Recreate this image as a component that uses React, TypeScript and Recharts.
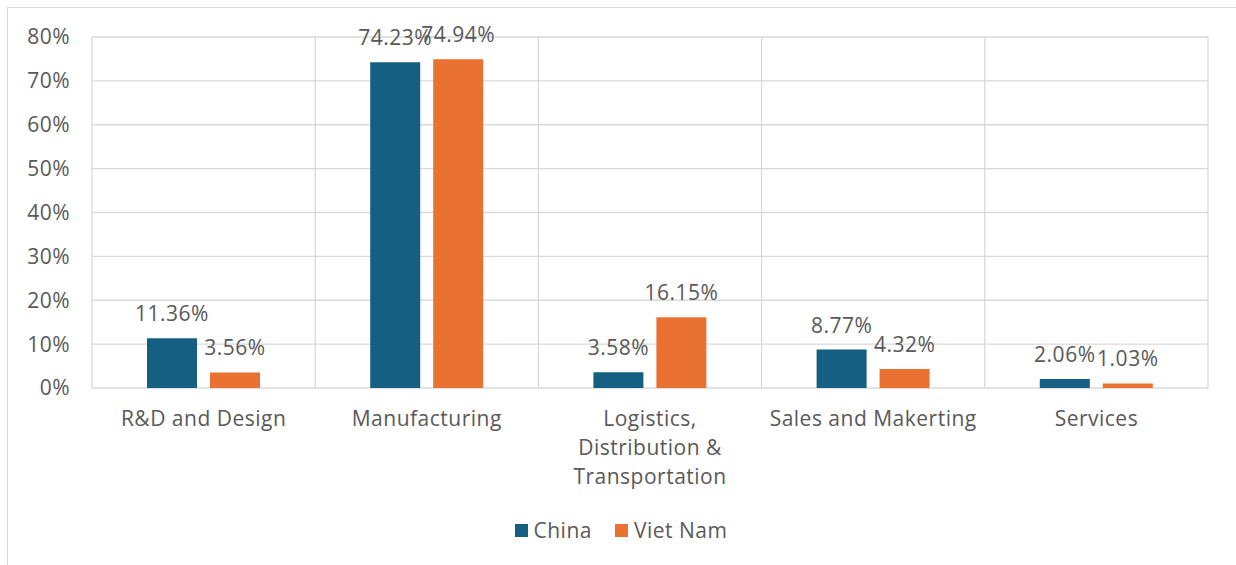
import { BarChart, Bar, XAxis, YAxis, CartesianGrid, Legend, LabelList } from 'recharts';

const categories = [
  'R&D and Design',
  'Manufacturing',
  'Logistics,\nDistribution &\nTransportation',
  'Sales and Makerting',
  'Services',
];
const chinaValues = [11.36, 74.23, 3.58, 8.77, 2.06];
const vietNamValues = [3.56, 74.94, 16.15, 4.32, 1.03];
const yTicks = [0, 10, 20, 30, 40, 50, 60, 70, 80];
const seriesNames = ['China', 'Viet Nam'];

const FONT = '"Open Sans", sans-serif';
const TEXT = '#595959';
const GRID = '#D9D9D9';
const COLORS = ['#156082', '#E97132'];
const SPACING = '0.5px';

const data = categories.map((c, i) => ({
  category: c,
  china: chinaValues[i],
  vietNam: vietNamValues[i],
}));

// vertical grid lines sit on the category boundaries, not the centres
const boundaryLines = ({ offset }: any) => {
  const n = categories.length;
  const step = offset.width / n;
  return Array.from({ length: n + 1 }, (_, i) => offset.left + i * step);
};

const labelStyle = { fill: TEXT, fontSize: 21, fontFamily: FONT, letterSpacing: SPACING };

function CategoryTick({ x, y, payload }: any) {
  const lines = String(payload.value).split('\n');
  return (
    <text x={x} y={y} textAnchor="middle" style={labelStyle}>
      {lines.map((l, i) => (
        <tspan key={i} x={x} dy={i === 0 ? 38 : 29}>{l}</tspan>
      ))}
    </text>
  );
}

function LegendContent() {
  return (
    <div style={{ display: 'flex', justifyContent: 'center', alignItems: 'center', fontFamily: FONT, fontSize: 21, color: TEXT, height: 28, letterSpacing: SPACING, paddingLeft: 6 }}>
      {seriesNames.map((n, i) => (
        <div key={n} style={{ display: 'flex', alignItems: 'center', marginRight: i === 0 ? 23 : 0 }}>
          <span style={{ width: 13, height: 13, background: COLORS[i], marginRight: 6, display: 'inline-block' }} />
          <span>{n}</span>
        </div>
      ))}
    </div>
  );
}

export default function App() {
  return (
    <div style={{ position: 'absolute', left: 0, top: 0, width: 1236, height: 565, overflow: 'hidden', background: '#fff' }}>
      <div style={{ position: 'absolute', left: 7, top: 7, width: 1260, height: 600, border: `1px solid ${GRID}` }} />
      <div style={{ position: 'absolute', left: 0, top: 0 }}>
        <BarChart
          width={1236}
          height={565}
          data={data}
          margin={{ top: 37, right: 28, left: 0, bottom: 89 }}
          barSize={50}
          barGap={13}
        >
          <CartesianGrid stroke={GRID} strokeWidth={1.3} verticalCoordinatesGenerator={boundaryLines} />
          <XAxis
            dataKey="category"
            tick={<CategoryTick />}
            tickLine={false}
            axisLine={false}
            tickSize={0}
            tickMargin={0}
            interval={0}
            height={60}
          />
          <YAxis
            domain={[0, 80]}
            ticks={yTicks}
            width={92}
            tickLine={false}
            axisLine={false}
            tickMargin={16}
            tickFormatter={(v: number) => `${v}%`}
            tick={labelStyle}
          />
          <Legend content={<LegendContent />} wrapperStyle={{ top: 516, left: 0, width: 1236 }} />
          <Bar dataKey="china" name={seriesNames[0]} fill={COLORS[0]} isAnimationActive={false}>
            <LabelList
              dataKey="china"
              position="top"
              offset={17}
              formatter={(v: any) => `${Number(v).toFixed(2)}%`}
              style={labelStyle}
            />
          </Bar>
          <Bar dataKey="vietNam" name={seriesNames[1]} fill={COLORS[1]} isAnimationActive={false}>
            <LabelList
              dataKey="vietNam"
              position="top"
              offset={17}
              formatter={(v: any) => `${Number(v).toFixed(2)}%`}
              style={labelStyle}
            />
          </Bar>
        </BarChart>
      </div>
    </div>
  );
}
